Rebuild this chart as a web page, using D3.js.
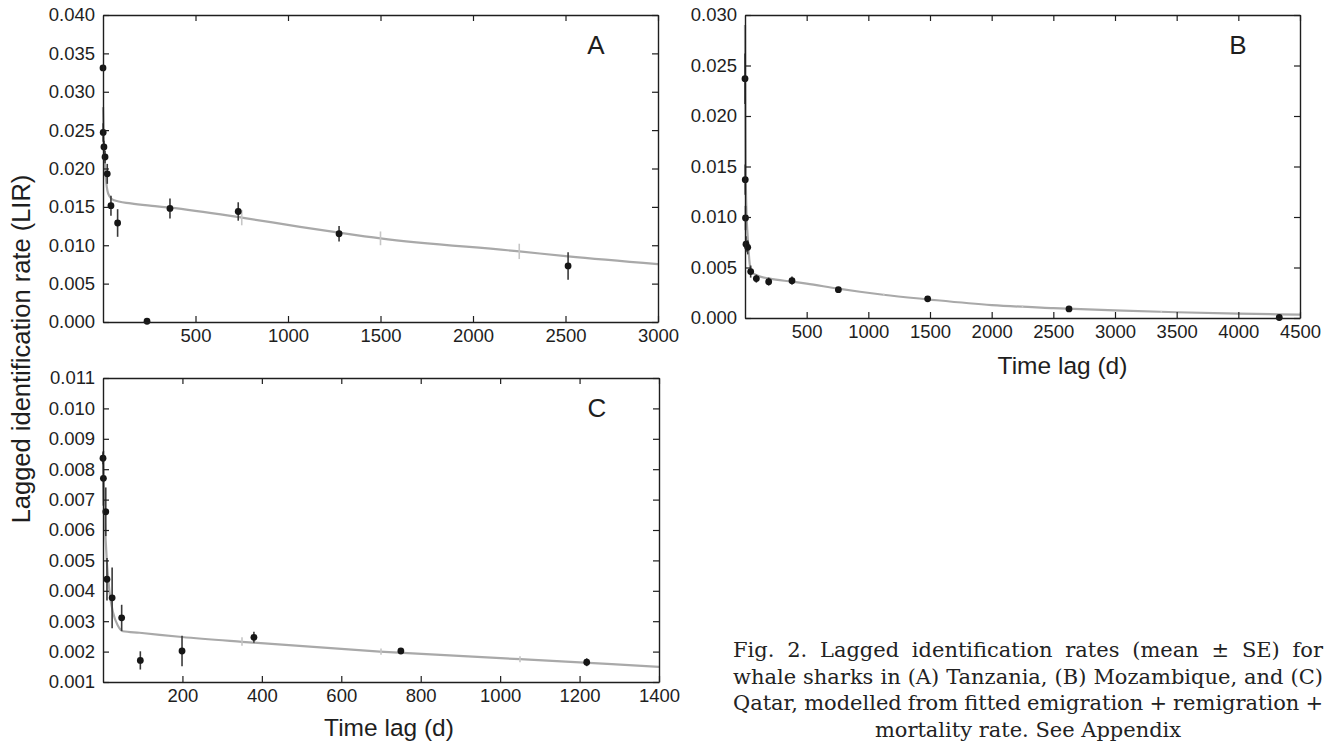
<!DOCTYPE html>
<html><head><meta charset="utf-8">
<script src="https://cdn.jsdelivr.net/npm/d3@7"></script>
<style>body{margin:0;background:#fff} svg{display:block}</style>
</head><body>
<svg id="chart" width="1336" height="744"></svg>
<script>
// ---------- Panel A : Tanzania ----------
const tA    = [0, 1, 5, 11, 23, 43, 79, 238, 362, 731, 1276, 2514];
const lirA  = [0.0331, 0.0247, 0.0228, 0.0215, 0.0193, 0.01515, 0.0129, 0.0001, 0.0148, 0.0144, 0.0115, 0.0073];
const seA   = [0.0004, 0.0012, 0.0008, 0.0008, 0.0013, 0.0013, 0.0018, 0, 0.0013, 0.0012, 0.001, 0.0018];
const fitTA = [0, 4, 8, 12, 18, 24, 35, 56, 150, 281, 362, 750, 1065, 1276, 1500, 2250, 2514, 3000];
const fitA  = [0.0280, 0.0240, 0.0215, 0.0199, 0.0181, 0.0171, 0.0164, 0.0159, 0.01545, 0.0151, 0.0149, 0.0136, 0.0124, 0.01165, 0.0109, 0.0092, 0.00855, 0.00755];
const modTA = [750, 1500, 2250];
const modA  = [0.0136, 0.0109, 0.0092];
const modSeA= [0.0010, 0.0009, 0.0010];
const xTicksA = [500, 1000, 1500, 2000, 2500, 3000];
const yTicksA = [0, 0.005, 0.010, 0.015, 0.020, 0.025, 0.030, 0.035, 0.040];

// ---------- Panel B : Mozambique ----------
const tB    = [0, 2, 4, 8, 22, 46, 92, 192, 381, 757, 1481, 2627, 4332];
const lirB  = [0.0237, 0.0137, 0.0099, 0.0073, 0.0070, 0.0046, 0.0039, 0.0036, 0.0037, 0.0028, 0.0019, 0.0009, 0.00005];
const seB   = [0.0025, 0.0015, 0.0012, 0.0008, 0.0007, 0.0006, 0.0004, 0.0004, 0.0004, 0.0002, 0.00012, 0.0001, 0.00005];
const fitTB = [0, 3, 6, 12, 20, 30, 41, 60, 100, 200, 381, 500, 757, 932, 1122, 1481, 2000, 2500, 3000, 3500, 4000, 4500];
const fitB  = [0.0290, 0.0200, 0.0140, 0.0105, 0.0084, 0.0065, 0.0051, 0.0045, 0.0042, 0.0039, 0.0036, 0.0034, 0.0029, 0.0026, 0.0023, 0.00185, 0.00128, 0.00098, 0.00075, 0.00057, 0.00044, 0.00033];
const modTB = [1125, 2250, 3375];
const modB  = [0.0023, 0.00113, 0.0006];
const modSeB= [0.0001, 0.0001, 0.0001];
const xTicksB = [500, 1000, 1500, 2000, 2500, 3000, 3500, 4000, 4500];
const yTicksB = [0, 0.005, 0.010, 0.015, 0.020, 0.025, 0.030];

// ---------- Panel C : Qatar ----------
const tC    = [0, 1, 7, 10, 23, 47, 94, 199, 380, 750, 1218];
const lirC  = [0.00836, 0.0077, 0.0066, 0.00438, 0.00377, 0.00311, 0.00171, 0.00202, 0.00247, 0.00202, 0.00165];
const seC   = [0.0002, 0.0009, 0.0008, 0.0007, 0.0010, 0.00043, 0.0003, 0.0005, 0.00018, 0.0001, 0.00013];
const fitTC = [0, 4, 10, 17, 25, 38, 50, 92, 199, 350, 697, 1050, 1400];
const fitC  = [0.0083, 0.0065, 0.0049, 0.0039, 0.0033, 0.00284, 0.00267, 0.00262, 0.00248, 0.00232, 0.0020, 0.00175, 0.0015];
const modTC = [350, 700, 1050];
const modC  = [0.00233, 0.0020, 0.00175];
const modSeC= [0.00014, 0.0001, 0.0001];
const xTicksC = [200, 400, 600, 800, 1000, 1200, 1400];
const yTicksC = [0.001, 0.002, 0.003, 0.004, 0.005, 0.006, 0.007, 0.008, 0.009, 0.010, 0.011];

// ---------- Text ----------
const yTitle = "Lagged identification rate (LIR)";
const xTitle = "Time lag (d)";
const captionLines = [
  "Fig. 2. Lagged identification rates (mean ± SE) for",
  "whale sharks in (A) Tanzania, (B) Mozambique, and (C)",
  "Qatar, modelled from fitted emigration + remigration +",
  "mortality rate. See Appendix"
];

const SANS = "'Liberation Sans', Arial, Helvetica, sans-serif";
const SERIF = "'DejaVu Serif', 'Liberation Serif', serif";
const svg = d3.select("#chart");

function zip(t, v, s) { return t.map((d, i) => ({t: d, v: v[i], s: s ? s[i] : 0})); }

function panel(cfg) {
  const g = svg.append("g");
  const x = d3.scaleLinear().domain(cfg.xDomain).range([cfg.left, cfg.right]);
  const y = d3.scaleLinear().domain(cfg.yDomain).range([cfg.bottom, cfg.top]);

  // fitted curve
  const line = d3.line().x(d => x(d.t)).y(d => y(d.v)).curve(d3.curveMonotoneX);
  g.append("path").datum(zip(cfg.fitT, cfg.fit))
    .attr("d", line).attr("fill", "none").attr("stroke", "#a9a9a9").attr("stroke-width", 2.2);

  // model uncertainty bars
  g.selectAll(".mbar").data(zip(cfg.modT, cfg.mod, cfg.modSe)).join("line")
    .attr("x1", d => x(d.t)).attr("x2", d => x(d.t))
    .attr("y1", d => y(d.v - d.s)).attr("y2", d => y(d.v + d.s))
    .attr("stroke", "#c6c6c6").attr("stroke-width", 1.6);

  const pts = zip(cfg.t, cfg.v, cfg.se);
  // data error bars
  g.selectAll(".ebar").data(pts).join("line")
    .attr("x1", d => x(d.t)).attr("x2", d => x(d.t))
    .attr("y1", d => y(d.v - d.s)).attr("y2", d => y(d.v + d.s))
    .attr("stroke", "#3a3a3a").attr("stroke-width", 1.6);
  // points
  g.selectAll(".pt").data(pts).join("circle")
    .attr("cx", d => x(d.t)).attr("cy", d => y(d.v)).attr("r", 3.4)
    .attr("fill", "#161616");

  // axes (box with inward ticks)
  const style = sel => {
    sel.select(".domain").attr("stroke", "#1e1e1e").attr("stroke-width", 1.4);
    sel.selectAll(".tick line").attr("stroke", "#1e1e1e").attr("stroke-width", 1.2);
    sel.selectAll("text").attr("font-family", SANS).attr("font-size", 18.5).attr("fill", "#1e1e1e");
  };
  g.append("g").attr("transform", `translate(0,${cfg.bottom})`)
    .call(d3.axisBottom(x).tickValues(cfg.xTicks).tickSizeInner(-6).tickSizeOuter(0).tickPadding(7).tickFormat(d3.format("d")))
    .call(style);
  g.append("g").attr("transform", `translate(0,${cfg.top})`)
    .call(d3.axisTop(x).tickValues(cfg.xTicks).tickSizeInner(-6).tickSizeOuter(0).tickFormat(""))
    .call(style);
  g.append("g").attr("transform", `translate(${cfg.left},0)`)
    .call(d3.axisLeft(y).tickValues(cfg.yTicks).tickSizeInner(-6).tickSizeOuter(0).tickPadding(8).tickFormat(d3.format(".3f")))
    .call(style);
  g.append("g").attr("transform", `translate(${cfg.right},0)`)
    .call(d3.axisRight(y).tickValues(cfg.yTicks).tickSizeInner(-6).tickSizeOuter(0).tickFormat(""))
    .call(style);

  // panel letter
  g.append("text").attr("x", cfg.right - 62).attr("y", cfg.top + 39)
    .attr("font-family", SANS).attr("font-size", 26).attr("fill", "#1e1e1e")
    .attr("text-anchor", "middle").text(cfg.letter);

  if (cfg.xTitleY) {
    g.append("text").attr("x", (cfg.left + cfg.right) / 2 + cfg.xTitleShift).attr("y", cfg.xTitleY)
      .attr("font-family", SANS).attr("font-size", 24.5).attr("fill", "#1e1e1e")
      .attr("text-anchor", "middle").text(xTitle);
  }
}

panel({letter: "A", left: 103, right: 658, top: 15, bottom: 322,
  xDomain: [0, 3000], yDomain: [0, 0.040], xTicks: xTicksA, yTicks: yTicksA,
  t: tA, v: lirA, se: seA, fitT: fitTA, fit: fitA, modT: modTA, mod: modA, modSe: modSeA});
panel({letter: "B", left: 745, right: 1300, top: 15, bottom: 318,
  xDomain: [0, 4500], yDomain: [0, 0.030], xTicks: xTicksB, yTicks: yTicksB,
  t: tB, v: lirB, se: seB, fitT: fitTB, fit: fitB, modT: modTB, mod: modB, modSe: modSeB,
  xTitleY: 374, xTitleShift: 40});
panel({letter: "C", left: 103, right: 659, top: 378, bottom: 682,
  xDomain: [0, 1400], yDomain: [0.001, 0.011], xTicks: xTicksC, yTicks: yTicksC,
  t: tC, v: lirC, se: seC, fitT: fitTC, fit: fitC, modT: modTC, mod: modC, modSe: modSeC,
  xTitleY: 736, xTitleShift: 8});

// y-axis title
svg.append("text").attr("transform", "translate(30,349) rotate(-90)")
  .attr("font-family", SANS).attr("font-size", 25.5).attr("fill", "#1e1e1e")
  .attr("text-anchor", "middle").text(yTitle);

// caption (justified)
const capL = 733, capR = 1323, capW = capR - capL;
const probe = svg.append("text").attr("font-family", SERIF).attr("font-size", 20).text(captionLines[1]);
const natural = probe.node().getComputedTextLength();
probe.remove();
const capSize = 20 * capW / natural * 0.995;
const capY0 = 657, capDY = 26.5;
captionLines.forEach((ln, i) => {
  const yy = capY0 + i * capDY;
  if (i === captionLines.length - 1) {
    svg.append("text").attr("x", (capL + capR) / 2).attr("y", yy).attr("text-anchor", "middle")
      .attr("font-family", SERIF).attr("font-size", capSize).attr("fill", "#222").text(ln);
    return;
  }
  const words = ln.split(" ");
  const t = svg.append("text").attr("y", yy).attr("font-family", SERIF).attr("font-size", capSize).attr("fill", "#222");
  const spans = words.map(w => t.append("tspan").text(w));
  const widths = spans.map(s => s.node().getComputedTextLength());
  const total = d3.sum(widths);
  const gap = (capW - total) / (words.length - 1);
  let cx = capL;
  spans.forEach((s, k) => { s.attr("x", cx).attr("y", yy); cx += widths[k] + gap; });
});
</script>
</body></html>
